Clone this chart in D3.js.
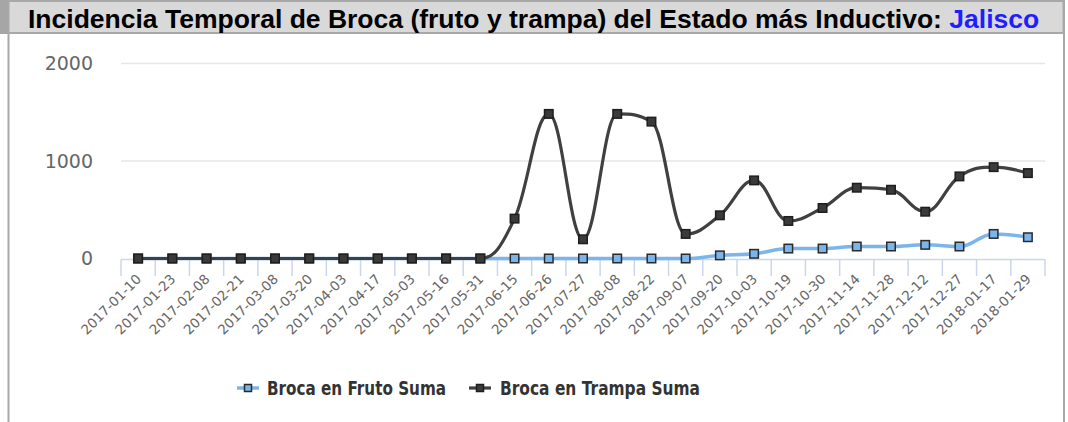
<!DOCTYPE html>
<html>
<head>
<meta charset="utf-8">
<script src="https://cdn.jsdelivr.net/npm/d3@7"></script>
<style>
  html, body { margin: 0; padding: 0; background: #fff; }
  svg { display: block; }
</style>
</head>
<body>
<svg id="chart" width="1068" height="422"></svg>
<script>
// ---------- data ----------
const categories = [
  "2017-01-10","2017-01-23","2017-02-08","2017-02-21","2017-03-08","2017-03-20",
  "2017-04-03","2017-04-17","2017-05-03","2017-05-16","2017-05-31","2017-06-15",
  "2017-06-26","2017-07-27","2017-08-08","2017-08-22","2017-09-07","2017-09-20",
  "2017-10-03","2017-10-19","2017-10-30","2017-11-14","2017-11-28","2017-12-12",
  "2017-12-27","2018-01-17","2018-01-29"
];
const frutoSuma = [0,0,0,0,0,0,0,0,0,0,0,0,0,0,0,0,0,32,48,102,102,123,123,140,123,252,218];
const trampaSuma = [0,0,0,0,0,0,0,0,0,0,0,409,1483,197,1483,1404,252,443,801,385,518,726,705,480,842,937,876];
const yTicks = [0, 1000, 2000];
const seriesNames = ["Broca en Fruto Suma", "Broca en Trampa Suma"];
const titleMain = "Incidencia Temporal de Broca (fruto y trampa) del Estado más Inductivo: ";
const titleState = "Jalisco";

// ---------- Highcharts-like spline curve ----------
function HCSpline(context) { this._context = context; }
HCSpline.prototype = {
  areaStart() {}, areaEnd() {},
  lineStart() { this._pts = []; },
  point(x, y) { this._pts.push([+x, +y]); },
  lineEnd() {
    const pts = this._pts, ctx = this._context, n = pts.length;
    if (!n) return;
    const sm = 1.5, den = sm + 1;
    const rc = [];
    ctx.moveTo(pts[0][0], pts[0][1]);
    for (let i = 1; i < n; i++) {
      const [px, py] = pts[i];
      const last = pts[i - 1], next = pts[i + 1];
      let lcx = px, lcy = py;
      if (next) {
        const [lx, ly] = last, [nx, ny] = next;
        lcx = (sm * px + lx) / den; lcy = (sm * py + ly) / den;
        let rcx = (sm * px + nx) / den, rcy = (sm * py + ny) / den;
        let corr = 0;
        if (rcx !== lcx) corr = ((rcy - lcy) * (rcx - px)) / (rcx - lcx) + py - rcy;
        lcy += corr; rcy += corr;
        if (lcy > ly && lcy > py) { lcy = Math.max(ly, py); rcy = 2 * py - lcy; }
        else if (lcy < ly && lcy < py) { lcy = Math.min(ly, py); rcy = 2 * py - lcy; }
        if (rcy > ny && rcy > py) { rcy = Math.max(ny, py); lcy = 2 * py - rcy; }
        else if (rcy < ny && rcy < py) { rcy = Math.min(ny, py); lcy = 2 * py - rcy; }
        rc[i] = [rcx, rcy];
      }
      const prc = rc[i - 1] || last;
      ctx.bezierCurveTo(prc[0], prc[1], lcx, lcy, px, py);
    }
  }
};
const curveHC = ctx => new HCSpline(ctx);

// ---------- layout ----------
const W = 1068, H = 422;
const svg = d3.select("#chart");

// frame
svg.append("rect").attr("x", 0).attr("y", 0).attr("width", 9).attr("height", 34).attr("fill", "#a6a6a6");
svg.append("rect").attr("x", 8.5).attr("y", 1).attr("width", 1055).attr("height", 32)
  .attr("fill", "#d9d9d9").attr("stroke", "#a8a8a8").attr("stroke-width", 2);
svg.append("line").attr("x1", 8.5).attr("x2", 8.5).attr("y1", 33).attr("y2", H)
  .attr("stroke", "#a8a8a8").attr("stroke-width", 2);
svg.append("line").attr("x1", 1064).attr("x2", 1064).attr("y1", 0).attr("y2", H)
  .attr("stroke", "#a8a8a8").attr("stroke-width", 2);

// title
const title = svg.append("text").attr("x", 28).attr("y", 28)
  .style("font-family", "'Liberation Sans', Arial, sans-serif")
  .style("font-weight", "bold").style("font-size", "26.5px").attr("fill", "#000");
title.append("tspan").text(titleMain);
title.append("tspan").attr("fill", "#1e1eff").text(titleState);

// scales
const x = d3.scaleBand().domain(categories).range([121, 1045]).padding(0);
const cx = c => x(c) + x.bandwidth() / 2;
const y = d3.scaleLinear().domain([0, 2000]).range([258.5, 63.5]);

// gridlines
svg.append("g").selectAll("line").data(yTicks.filter(v => v > 0)).join("line")
  .attr("x1", 121).attr("x2", 1045)
  .attr("y1", d => y(d)).attr("y2", d => y(d))
  .attr("stroke", "#e6e6e6").attr("stroke-width", 1.5);

// y labels
svg.append("g").selectAll("text").data(yTicks).join("text")
  .attr("x", 93).attr("y", d => y(d) + 6.5)
  .attr("text-anchor", "end")
  .style("font-family", "'DejaVu Sans', sans-serif").style("font-size", "19px")
  .attr("fill", "#666").text(d => d);

// x axis line and ticks
const axisY = 259.5;
svg.append("line").attr("x1", 121).attr("x2", 1045).attr("y1", axisY).attr("y2", axisY)
  .attr("stroke", "#ccd6eb").attr("stroke-width", 1.5);
const tickPos = categories.map(c => x(c)).concat([x(categories[categories.length - 1]) + x.bandwidth()]);
svg.append("g").selectAll("line").data(tickPos).join("line")
  .attr("x1", d => d).attr("x2", d => d).attr("y1", axisY).attr("y2", 276)
  .attr("stroke", "#ccd6eb").attr("stroke-width", 1.5);

// x labels
svg.append("g").selectAll("text").data(categories).join("text")
  .attr("transform", d => `translate(${cx(d) + 4},${280}) rotate(-45)`)
  .attr("text-anchor", "end")
  .style("font-family", "'DejaVu Sans', sans-serif").style("font-size", "13.5px")
  .attr("fill", "#666").text(d => d);

// series
const series = [
  { name: seriesNames[0], values: frutoSuma, color: "#7cb5ec", width: 3.5, mfill: "#7cb5ec", mstroke: "#2a2a2a", tl: 179 },
  { name: seriesNames[1], values: trampaSuma, color: "#404040", width: 3.2, mfill: "#3a3a3a", mstroke: "#1e1e1e", tl: 200 }
];
const line = d3.line().x((d, i) => cx(categories[i])).y(d => y(d)).curve(curveHC);
const ms = 8.5;
series.forEach(s => {
  const g = svg.append("g");
  g.append("path").attr("d", line(s.values)).attr("fill", "none")
    .attr("stroke", s.color).attr("stroke-width", s.width)
    .attr("stroke-linejoin", "round").attr("stroke-linecap", "round");
  g.selectAll("rect").data(s.values).join("rect")
    .attr("x", (d, i) => cx(categories[i]) - ms / 2)
    .attr("y", d => y(d) - ms / 2)
    .attr("width", ms).attr("height", ms)
    .attr("fill", s.mfill).attr("stroke", s.mstroke).attr("stroke-width", 1.5);
});

// legend
const legendItems = [
  { s: series[0], x0: 237, tx: 267 },
  { s: series[1], x0: 469, tx: 500 }
];
const ly = 388;
legendItems.forEach(it => {
  const g = svg.append("g");
  g.append("line").attr("x1", it.x0).attr("x2", it.x0 + 22).attr("y1", ly).attr("y2", ly)
    .attr("stroke", it.s.color).attr("stroke-width", it.s.width);
  g.append("rect").attr("x", it.x0 + 11 - 3.5).attr("y", ly - 3.5)
    .attr("width", 7).attr("height", 7)
    .attr("fill", it.s.mfill).attr("stroke", it.s.mstroke).attr("stroke-width", 1.5);
  g.append("text").attr("x", it.tx).attr("y", 395)
    .attr("textLength", it.s.tl).attr("lengthAdjust", "spacingAndGlyphs")
    .style("font-family", "'DejaVu Sans', sans-serif")
    .style("font-weight", "bold").style("font-size", "19.5px")
    .attr("fill", "#333").text(it.s.name);
});
</script>
</body>
</html>
